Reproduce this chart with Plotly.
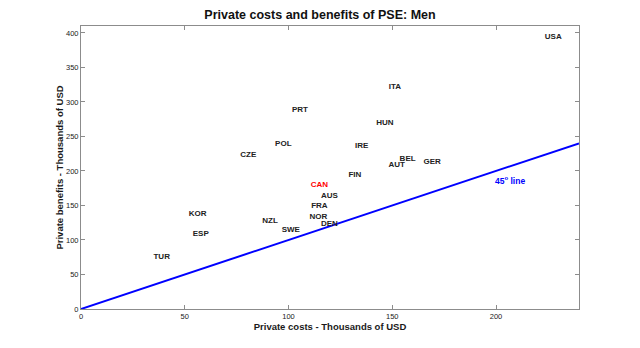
import plotly.graph_objects as go

countries = ["USA", "ITA", "PRT", "HUN", "POL", "IRE", "CZE", "BEL", "AUT", "GER",
             "FIN", "CAN", "AUS", "FRA", "KOR", "NOR", "NZL", "DEN", "SWE", "ESP", "TUR"]
costs = [227.6, 151.3, 105.5, 146.5, 97.5, 135.3, 80.6, 157.4, 152.1, 169.2,
         132.0, 114.9, 119.7, 114.9, 56.2, 114.4, 91.1, 119.7, 101.1, 57.7, 38.9]
benefits = [393.6, 321.4, 287.8, 269.5, 239.7, 235.8, 222.7, 216.6, 208.4, 212.7,
            193.5, 179.5, 164.0, 149.7, 137.2, 132.8, 127.5, 122.7, 114.5, 108.7, 75.1]
line_x = [0, 240]
x_ticks = [0, 50, 100, 150, 200]
y_ticks = [0, 50, 100, 150, 200, 250, 300, 350, 400]

colors = ["#ff0000" if c == "CAN" else "#222222" for c in countries]

fig = go.Figure()
fig.add_trace(go.Scatter(x=line_x, y=line_x, mode="lines",
                         line=dict(color="#0000ff", width=2), showlegend=False, hoverinfo="skip"))
fig.add_trace(go.Scatter(x=costs, y=benefits, mode="text", text=countries,
                         textposition="middle center",
                         textfont=dict(family="Liberation Sans, Arial", size=8, color=colors,
                                       weight="bold"),
                         showlegend=False))
fig.add_annotation(x=206.7, y=185.7, text="<b>45<sup>o</sup> line</b>", showarrow=False,
                   font=dict(family="Liberation Sans, Arial", size=8.5, color="#0000ff"))

axis_common = dict(showgrid=False, zeroline=False, showline=True, linecolor="#8c8c8c",
                   linewidth=1, mirror="ticks", ticks="inside", ticklen=4, tickcolor="#8c8c8c",
                   tickfont=dict(family="Liberation Sans, Arial", size=7.5, color="#1a1a1a"))
fig.update_xaxes(range=[0, 240], tickvals=x_ticks, **axis_common,
                 title=dict(text="<b>Private costs - Thousands of USD</b>", standoff=3,
                            font=dict(family="Liberation Sans, Arial", size=9.5, color="#1a1a1a")))
fig.update_yaxes(range=[0, 410], tickvals=y_ticks, **axis_common,
                 title=dict(text="<b>Private benefits - Thousands of USD</b>", standoff=0,
                            font=dict(family="Liberation Sans, Arial", size=9.5, color="#1a1a1a")))
fig.update_layout(
    width=640, height=348,
    margin=dict(l=81, r=61, t=26, b=39),
    paper_bgcolor="white", plot_bgcolor="white",
    title=dict(text="<b>Private costs and benefits of PSE: Men</b>", x=0.5, xanchor="center",
               y=0.957, yanchor="middle",
               font=dict(family="Liberation Sans, Arial", size=12.5, color="#111111")),
)
fig.write_html("out.html")
